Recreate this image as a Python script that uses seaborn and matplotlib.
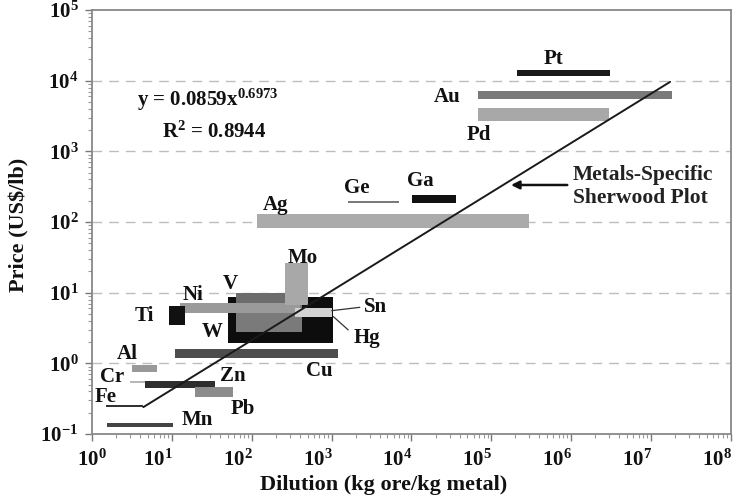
import numpy as np
import pandas as pd
import matplotlib
matplotlib.use("Agg")
import matplotlib.pyplot as plt
import matplotlib.transforms as mtransforms
from matplotlib.ticker import FixedLocator, LogLocator, NullFormatter
import seaborn as sns

# ---------------- data ----------------
metals = ["Cu", "Hg", "W", "V", "Ni", "Mo", "Sn", "Ti",
          "Pt", "Au", "Pd", "Ag", "Ge", "Ga",
          "Al", "Cr", "Zn", "Pb", "Fe", "Mn"]
dilution_low = [10.9, 50.6, 63, 63, 12.6, 260, 347, 9.2,
                2.1e5, 6.9e4, 6.9e4, 116, 1620, 10200,
                3.12, 2.97, 4.57, 19.4, 1.48, 1.54]
dilution_high = [1210, 1047, 425, 260, 401, 505, 1000, 14.5,
                 3.1e6, 1.85e7, 3.0e6, 2.95e5, 6970, 36000,
                 6.41, 4.99, 34.5, 58.5, 4.36, 10.2]
price_low = [1.18, 1.96, 2.78, 7.08, 5.12, 6.7, 4.57, 3.49,
             11600, 5500, 2710, 81.5, 186, 184,
             0.764, 0.524, 0.445, 0.332, 0.239, 0.127]
price_high = [1.6, 8.78, 7.1, 10.0, 7.1, 26, 6.0, 6.5,
              14100, 7200, 4140, 128, 196, 241,
              0.95, 0.563, 0.563, 0.467, 0.258, 0.142]

fit_coef = 0.0859
fit_exp = 0.6973
fit_dilution_range = [4.36, 1.74e7]
fit_text = "y = 0.0859x$^{0.6973}$"
r2_text = "R$^{2}$ = 0.8944"

x_tick_exponents = [0, 1, 2, 3, 4, 5, 6, 7, 8]
y_tick_exponents = [-1, 0, 1, 2, 3, 4, 5]

x_label = "Dilution (kg ore/kg metal)"
y_label = "Price (US\\$/lb)"
callout_text = "Metals-Specific\nSherwood Plot"

# ---------------- styles ----------------
metal_colors = {
    "Cu": "#4d4d4d", "Hg": "#0d0d0d", "W": "#7a7a7a", "V": "#6c6c6c",
    "Ni": "#9a9a9a", "Mo": "#a8a8a8", "Sn": "#d2d2d2", "Ti": "#111111",
    "Pt": "#1a1a1a", "Au": "#7a7a7a", "Pd": "#a8a8a8", "Ag": "#ababab",
    "Ge": "#7a7a7a", "Ga": "#111111", "Al": "#999999", "Cr": "#b8b8b8",
    "Zn": "#2e2e2e", "Pb": "#8c8c8c", "Fe": "#333333", "Mn": "#444444",
}
# label anchor positions (data coords) -- layout only
label_pos = {
    "Pt": (6.1e5, 20200), "Au": (2.79e4, 5960), "Pd": (7.0e4, 1730),
    "Ge": (2080, 303), "Ga": (12800, 380), "Ag": (200, 174),
    "Mo": (437, 31), "V": (53, 13.1), "Ni": (18.5, 9.27),
    "Ti": (4.45, 4.6), "W": (32, 2.74), "Sn": (3590, 6.28),
    "Hg": (2770, 2.29), "Cu": (695, 0.767), "Al": (2.76, 1.34),
    "Cr": (1.79, 0.631), "Zn": (57, 0.653), "Fe": (1.46, 0.33),
    "Pb": (76, 0.226), "Mn": (21, 0.156),
}

sns.set_theme(style="ticks")
plt.rcParams["font.family"] = ["Liberation Serif", "DejaVu Serif"]
plt.rcParams["font.weight"] = "bold"
plt.rcParams["mathtext.fontset"] = "custom"
plt.rcParams["mathtext.rm"] = "Liberation Serif:bold"
plt.rcParams["mathtext.it"] = "Liberation Serif:bold:italic"
plt.rcParams["mathtext.bf"] = "Liberation Serif:bold"

fig = plt.figure(figsize=(7.36, 5.03), dpi=100)
ax = fig.add_axes([0.1254, 0.1372, 0.8674, 0.8429])
ax.set_xscale("log")
ax.set_yscale("log")
ax.set_xlim(1, 1e8)
ax.set_ylim(0.1, 1e5)

# horizontal dashed grid
for e in y_tick_exponents[1:-1]:
    ax.axhline(10.0 ** e, color="#bdbdbd", lw=1.0, ls=(0, (7, 5)), zorder=0)

# range boxes
df = pd.DataFrame({"metal": metals, "dlo": dilution_low, "dhi": dilution_high,
                   "plo": price_low, "phi": price_high})
for i, r in df.iterrows():
    ax.bar(r["dlo"], r["phi"] - r["plo"], width=r["dhi"] - r["dlo"],
           bottom=r["plo"], align="edge", color=metal_colors[r["metal"]],
           edgecolor="none", linewidth=0, zorder=2 + i * 0.01)

# fit line
xs = np.logspace(np.log10(fit_dilution_range[0]), np.log10(fit_dilution_range[1]), 200)
fit_df = pd.DataFrame({"x": xs, "y": fit_coef * xs ** fit_exp})
sns.lineplot(data=fit_df, x="x", y="y", ax=ax, color="#1a1a1a", lw=1.4, zorder=5)

# metal labels
for m, (lx, ly) in label_pos.items():
    ax.text(lx, ly, m, ha="center", va="center", fontsize=15,
            fontweight="bold", color="#111111", zorder=6)

# leader lines for Sn and Hg
ax.plot([1000, 2250], [5.56, 6.2], color="#333333", lw=0.9, zorder=6)
ax.plot([1050, 1610], [4.58, 2.97], color="#333333", lw=0.9, zorder=6)

# arrow + callout
ax.annotate("", xy=(1.63e5, 334), xytext=(9.7e5, 334),
            arrowprops=dict(arrowstyle="-|>", color="#111111", lw=1.8,
                            mutation_scale=12), zorder=6)
ax.text(1.06e6, 321, callout_text, ha="left", va="center", fontsize=15.5,
        fontweight="bold", color="#222222", linespacing=1.2, zorder=6)

# equation
ax.text(3.64, 5320, fit_text, ha="left", va="center", fontsize=15,
        fontweight="bold", color="#111111", zorder=6)
ax.text(7.5, 1876, r2_text, ha="left", va="center", fontsize=15,
        fontweight="bold", color="#111111", zorder=6)

# ticks
ax.xaxis.set_major_locator(FixedLocator([10.0 ** e for e in x_tick_exponents]))
ax.set_xticklabels([r"$10^{%d}$" % e for e in x_tick_exponents])
ax.yaxis.set_major_locator(FixedLocator([10.0 ** e for e in y_tick_exponents]))
ax.set_yticklabels([r"$10^{%d}$" % e for e in y_tick_exponents])
ax.xaxis.set_minor_locator(LogLocator(base=10, subs=np.arange(2, 10), numticks=20))
ax.yaxis.set_minor_locator(LogLocator(base=10, subs=np.arange(2, 10), numticks=20))
ax.xaxis.set_minor_formatter(NullFormatter())
ax.yaxis.set_minor_formatter(NullFormatter())
ax.tick_params(axis="both", which="major", length=5, width=1.0, color="#777777",
               labelsize=15, labelcolor="#111111")
ax.tick_params(axis="both", which="minor", length=3, width=0.8, color="#999999")
ax.tick_params(axis="x", which="major", pad=6)
ax.tick_params(axis="y", which="major", pad=5)

for s in ax.spines.values():
    s.set_visible(True)
    s.set_color("#888888")
    s.set_linewidth(1.3)

ax.set_xlabel(x_label, fontsize=16, fontweight="bold", color="#111111")
ax.set_ylabel(y_label, fontsize=16, fontweight="bold", color="#111111")
ax.xaxis.set_label_coords(0.457, -0.097)
ax.yaxis.set_label_coords(-0.098, 0.493)

# shift x tick labels slightly left like the reference
offset = mtransforms.ScaledTranslation(-14 / 100, 0, fig.dpi_scale_trans)
for lbl in ax.get_xticklabels()[1:]:
    lbl.set_transform(lbl.get_transform() + offset)

fig.savefig("out.png", dpi=100)
